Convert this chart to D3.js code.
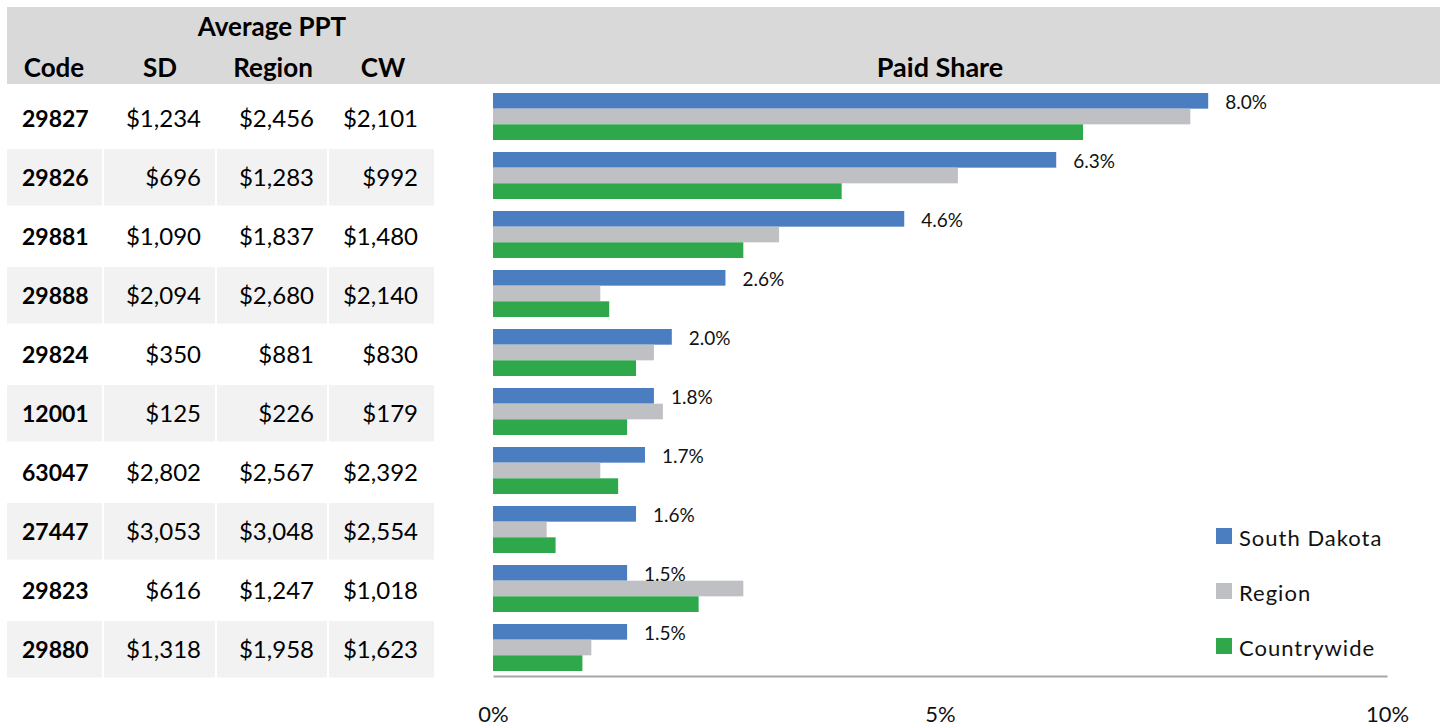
<!DOCTYPE html>
<html>
<head>
<meta charset="utf-8">
<script src="https://cdn.jsdelivr.net/npm/d3@7"></script>
<style>
  html, body { margin: 0; padding: 0; background: #fff; }
  svg { display: block; font-family: Lato, "Open Sans", sans-serif; }
</style>
</head>
<body>
<svg id="chart" width="1445" height="726"></svg>
<script>
// ---- data ----
const codes = ["29827","29826","29881","29888","29824","12001","63047","27447","29823","29880"];
const ppt_SD     = [1234, 696, 1090, 2094, 350, 125, 2802, 3053, 616, 1318];
const ppt_Region = [2456, 1283, 1837, 2680, 881, 226, 2567, 3048, 1247, 1958];
const ppt_CW     = [2101, 992, 1480, 2140, 830, 179, 2392, 2554, 1018, 1623];
const seriesNames = ["South Dakota", "Region", "Countrywide"];
const share_SD     = [0.080, 0.063, 0.046, 0.026, 0.020, 0.018, 0.017, 0.016, 0.015, 0.015];
const share_Region = [0.078, 0.052, 0.032, 0.012, 0.018, 0.019, 0.012, 0.006, 0.028, 0.011];
const share_CW     = [0.066, 0.039, 0.028, 0.013, 0.016, 0.015, 0.014, 0.007, 0.023, 0.010];
const axisTicks = [0, 0.05, 0.10];
const tableHeaders = ["Code", "SD", "Region", "CW"];

// ---- setup ----
const svg = d3.select("#chart");
const colors = d3.scaleOrdinal(seriesNames, ["#4a7ec0", "#bfc0c4", "#2ea84a"]);
const shares = [share_SD, share_Region, share_CW];

const yRow = d3.scaleBand(codes, [90, 680]);
const ySer = d3.scaleBand(seriesNames, [0, 47]);
const x = d3.scaleLinear([0, 0.10], [493, 1387]);
const money = d3.format("$,.0f");
const pct = d3.format(".1%");

// header band
svg.append("rect").attr("x", 7).attr("y", 7).attr("width", 1433).attr("height", 77).attr("fill", "#d9d9d9");

svg.append("text").attr("x", 272).attr("y", 36).attr("text-anchor", "middle")
  .attr("font-size", 26).attr("font-weight", 700).attr("fill", "#000").text("Average PPT");

const hdrX = [54, 160, 273, 383];
tableHeaders.forEach((h, i) => {
  svg.append("text").attr("x", hdrX[i]).attr("y", 77).attr("text-anchor", "middle")
    .attr("font-size", 26).attr("font-weight", 700).attr("fill", "#000").text(h);
});
svg.append("text").attr("x", 940).attr("y", 77).attr("text-anchor", "middle")
  .attr("font-size", 27).attr("font-weight", 700).attr("fill", "#000").text("Paid Share");

// table cells
const cols = [[7, 102], [104, 215], [217, 327], [329, 434]];
const rows = svg.append("g").selectAll("g").data(codes).join("g")
  .attr("transform", d => `translate(0,${yRow(d)})`);
rows.each(function(code, i) {
  const g = d3.select(this);
  if (i % 2 === 1) {
    cols.forEach(c => g.append("rect").attr("x", c[0]).attr("y", 0)
      .attr("width", c[1] - c[0]).attr("height", yRow.bandwidth() - 2.5).attr("fill", "#f2f2f2"));
  }
  const base = 37;
  g.append("text").attr("x", 22).attr("y", base).attr("font-size", 23).attr("font-weight", 700)
    .attr("fill", "#000").text(code);
  [[ppt_SD, 201], [ppt_Region, 314], [ppt_CW, 418]].forEach(([arr, xr]) => {
    g.append("text").attr("x", xr).attr("y", base).attr("text-anchor", "end")
      .attr("font-size", 24).attr("fill", "#000").text(money(arr[i]));
  });
});

// bars
const barG = svg.append("g");
codes.forEach((code, i) => {
  seriesNames.forEach((s, k) => {
    barG.append("rect")
      .attr("x", x(0))
      .attr("y", yRow(code) + 3 + ySer(s))
      .attr("width", x(shares[k][i]) - x(0))
      .attr("height", ySer.bandwidth())
      .attr("fill", colors(s));
  });
  barG.append("text")
    .attr("x", x(share_SD[i]) + 17)
    .attr("y", yRow(code) + 4 + ySer(seriesNames[0]) + ySer.bandwidth() / 2)
    .attr("dominant-baseline", "central")
    .attr("font-size", 19).attr("fill", "#111")
    .text(pct(share_SD[i]));
});

// axis
const axis = svg.append("g").attr("transform", "translate(0,676)")
  .call(d3.axisBottom(x).tickValues(axisTicks).tickFormat(d3.format(".0%")).tickSize(0).tickPadding(30));
axis.select(".domain").attr("stroke", "#a6a6a6").attr("stroke-width", 2);
axis.selectAll("text").attr("font-size", 22).attr("fill", "#111").attr("font-family", "Lato, sans-serif");

// legend
const leg = svg.append("g").selectAll("g").data(seriesNames).join("g")
  .attr("transform", (d, i) => `translate(1216,${528 + i * 55})`);
leg.append("rect").attr("width", 16).attr("height", 16).attr("fill", d => colors(d));
leg.append("text").attr("x", 23).attr("y", 18).attr("font-size", 22)
  .attr("letter-spacing", 1).attr("fill", "#111").text(d => d);
</script>
</body>
</html>
